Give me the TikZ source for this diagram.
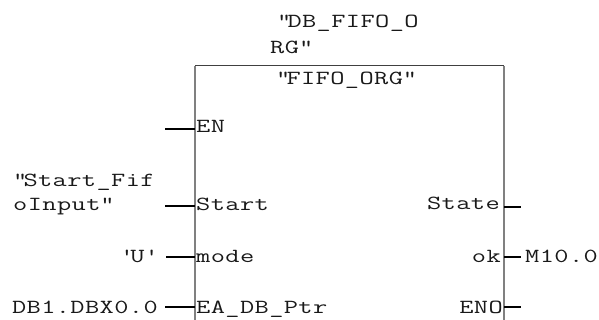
\documentclass[tikz,border=0pt]{standalone}
\usepackage{fontspec}
\setmonofont{Latin Modern Mono}[FakeStretch=1.38,LetterSpace=2]
\begin{document}
\begin{tikzpicture}[x=1pt,y=-1pt,
  lbl/.style={inner sep=0pt,font=\ttfamily\fontsize{20}{26}\selectfont,text=black!90},
  pinline/.style={draw=black,line width=1.8pt},
  edge/.style={draw=black!50,line width=1.3pt},
  topedge/.style={draw=black!75,line width=1pt}]
\useasboundingbox (0,0) rectangle (599,320);
% box
\coordinate (tl) at (195,65.7);
\coordinate (tr) at (504,65.7);
\coordinate (bl) at (195,322);
\coordinate (br) at (504,322);
\draw[edge] (tl) -- (bl);
\draw[edge] (tr) -- (br);
\draw[topedge] (tl) -- (tr);
% titles
\node[lbl,anchor=base west] (db1) at (277,28) {\textquotedbl DB\_FIFO\_O};
\node[lbl,anchor=base west] (db2) at (270,54) {RG\textquotedbl};
\node[lbl,anchor=base west] (fb) at (276,85) {\textquotedbl FIFO\_ORG\textquotedbl};
% inputs
\node[lbl,anchor=base west] (en) at (196,133) {EN};
\node[lbl,anchor=base west] (start) at (196,211) {Start};
\node[lbl,anchor=base west] (mode) at (196,262) {mode};
\node[lbl,anchor=base west] (ea) at (196,313.5) {EA\_DB\_Ptr};
\coordinate (enL) at (165,129); \coordinate (enR) at (195,129);
\coordinate (stL) at (165,206); \coordinate (stR) at (195,206);
\coordinate (moL) at (166,257); \coordinate (moR) at (195,257);
\coordinate (eaL) at (165,307); \coordinate (eaR) at (195,307);
\draw[pinline] (enL) -- (enR);
\draw[pinline] (stL) -- (stR);
\draw[pinline] (moL) -- (moR);
\draw[pinline] (eaL) -- (eaR);
% input actuals
\node[lbl,anchor=base west] (sf1) at (13,187) {\textquotedbl Start\_Fif};
\node[lbl,anchor=base west] (sf2) at (13,211) {oInput\textquotedbl};
\node[lbl,anchor=base east] (u) at (155,262) {\textquotesingle U\textquotesingle};
\node[lbl,anchor=base east] (db) at (158,313.5) {DB1.DBX0.0};
% outputs
\node[lbl,anchor=base east] (state) at (500,210) {State};
\node[lbl,anchor=base east] (ok) at (501,262) {ok};
\node[lbl,anchor=base east] (eno) at (503,313.5) {ENO};
\coordinate (sL) at (504,207); \coordinate (sR) at (521,207);
\coordinate (oL) at (504,257); \coordinate (oR) at (521,257);
\coordinate (eL) at (504,307); \coordinate (eR) at (521,307);
\draw[pinline] (sL) -- (sR);
\draw[pinline] (oL) -- (oR);
\draw[pinline] (eL) -- (eR);
\node[lbl,anchor=base west] (m10) at (525,262) {M10.0};
\end{tikzpicture}
\end{document}
